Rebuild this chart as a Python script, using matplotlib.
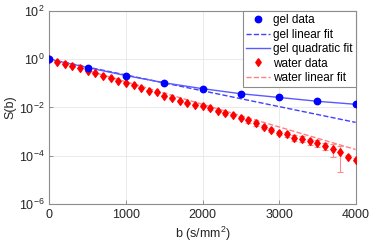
import numpy as np
import matplotlib
matplotlib.use("Agg")
import matplotlib.pyplot as plt

plt.rcParams["font.family"] = ["Liberation Sans", "DejaVu Sans"]

# gel data (every 500 s/mm^2)
gel_b = [0, 500, 1000, 1500, 2000, 2500, 3000, 3500, 4000]
gel_S = [1.0, 0.44, 0.20, 0.10, 0.059, 0.036, 0.026, 0.018, 0.0136]

# gel fits
gel_lin_b = [0, 4000]
gel_lin_S = [1.0, 0.0024]
gel_quad_S = [1.0, 0.45, 0.21, 0.105, 0.060, 0.037, 0.026, 0.018, 0.0135]

# water data (every 100 s/mm^2)
water_b = list(range(0, 4001, 100))
water_S = [1.0, 0.80, 0.65, 0.51, 0.43, 0.34, 0.26, 0.20, 0.16, 0.13,
           0.107, 0.083, 0.065, 0.050, 0.043, 0.031, 0.025, 0.019, 0.0155, 0.0132,
           0.0112, 0.0093, 0.0072, 0.0058, 0.0049, 0.0037, 0.0029, 0.0022, 0.0016, 0.00117,
           0.00091, 0.00076, 0.00056, 0.00050, 0.00040, 0.00034, 0.00026, 0.00019, 0.000138, 0.000091,
           0.000069]
water_rel_err = [0.04] * 15 + [0.08] * 6 + [0.14] * 5 + [0.2] * 5 + \
                [0.25, 0.25, 0.28, 0.28, 0.3, 0.35, 0.55, 0.85, 0.15, 0.15]

water_lin_b = [0, 4000]
water_lin_S = [1.0, 0.00018]

xticks = [0, 1000, 2000, 3000, 4000]
yticks = [1e-6, 1e-4, 1e-2, 1e0, 1e2]
ytick_labels = [r"$\mathregular{10^{-6}}$", r"$\mathregular{10^{-4}}$",
                r"$\mathregular{10^{-2}}$", r"$\mathregular{10^{0}}$",
                r"$\mathregular{10^{2}}$"]

# diamond a bit wider than matplotlib's thin 'd'
diamond = [(0, 1), (0.7, 0), (0, -1), (-0.7, 0), (0, 1)]

fig = plt.figure(figsize=(3.74, 2.49), dpi=100)
ax = fig.add_axes([0.132, 0.181, 0.819, 0.775])

water_err = np.array(water_S) * np.array(water_rel_err)

h1, = ax.plot(gel_b, gel_S, "o", color="#0000ff", markersize=4.6, label="gel data", zorder=5)
h2, = ax.plot(gel_lin_b, gel_lin_S, "--", color="#4040ff", linewidth=1.0, label="gel linear fit")
h3, = ax.plot(gel_b, gel_quad_S, "-", color="#5a5aff", linewidth=1.0, label="gel quadratic fit")
ax.errorbar(water_b, water_S, yerr=water_err, fmt="none",
            ecolor="#ff8c8c", elinewidth=0.8, capsize=2.5, capthick=0.8, zorder=3)
h4, = ax.plot(water_b, water_S, marker=diamond, linestyle="none", color="#ff0000",
              markersize=5.5, label="water data", zorder=4)
h5, = ax.plot(water_lin_b, water_lin_S, "--", color="#ff8080", linewidth=1.0, label="water linear fit")

ax.set_yscale("log")
ax.set_xlim(0, 4000)
ax.set_ylim(1e-6, 1e2)
ax.set_xticks(xticks)
ax.set_yticks(yticks)
ax.set_yticklabels(ytick_labels)
ax.yaxis.set_minor_locator(matplotlib.ticker.NullLocator())
ax.grid(True, color="#e6e6e6", linewidth=0.6)
ax.set_axisbelow(True)
ax.tick_params(direction="in", length=3, width=0.6, colors="#808080",
               labelcolor="#262626", labelsize=9)
for s in ax.spines.values():
    s.set_color("#8c8c8c")
    s.set_linewidth(0.8)

ax.set_xlabel(r"b (s/mm$\mathregular{^2}$)", fontsize=9, color="#262626", labelpad=3)
ax.set_ylabel("S(b)", fontsize=9, color="#262626", labelpad=2)

leg = ax.legend(handles=[h1, h2, h3, h4, h5], loc="upper right",
                bbox_to_anchor=(1.0, 1.0), borderaxespad=0,
                fontsize=8.5, handlelength=2.0, handletextpad=0.25, labelspacing=0.2,
                borderpad=0.3, fancybox=False, framealpha=1, edgecolor="#8c8c8c")
leg.get_frame().set_linewidth(0.8)

fig.savefig("out.png", dpi=100)
